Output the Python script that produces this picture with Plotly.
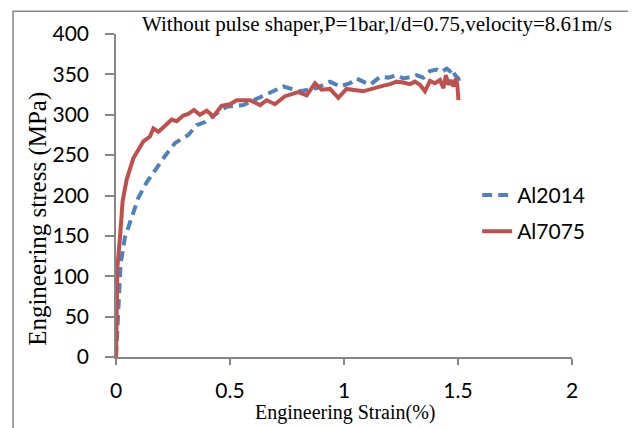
import plotly.graph_objects as go

# Al2014 (blue dashed)
al2014_strain = [0, 0.01, 0.02, 0.039, 0.069, 0.098, 0.134, 0.171, 0.215, 0.259, 0.317, 0.354, 0.39,
                 0.434, 0.485, 0.558, 0.617, 0.675, 0.734, 0.807, 0.88, 0.939, 0.982, 1.026, 1.055,
                 1.084, 1.114, 1.158, 1.194, 1.231, 1.26, 1.297, 1.319, 1.348, 1.377, 1.406, 1.428,
                 1.45, 1.465, 1.476, 1.487, 1.502, 1.506]
al2014_stress = [0, 70, 115, 148, 173, 197, 216, 232, 249, 265, 275, 287, 291,
                 300, 310, 312, 320, 327, 335, 329, 333, 341, 335, 339, 345,
                 341, 337, 347, 346, 349, 345, 347, 349, 346, 354, 356, 353,
                 357, 354, 357, 349, 345, 338]

# Al7075 (red solid)
al7075_strain = [0, 0.006, 0.0175, 0.029, 0.047, 0.076, 0.12, 0.149, 0.164, 0.186, 0.214, 0.244, 0.266,
                 0.295, 0.317, 0.342, 0.368, 0.398, 0.427, 0.463, 0.5, 0.529, 0.588, 0.632, 0.661,
                 0.697, 0.741, 0.8, 0.836, 0.873, 0.902, 0.939, 0.975, 1.011, 1.084, 1.129, 1.173,
                 1.202, 1.231, 1.26, 1.289, 1.311, 1.333, 1.355, 1.377, 1.399, 1.421, 1.436, 1.447,
                 1.458, 1.468, 1.48, 1.491, 1.497, 1.502]
al7075_stress = [0, 111, 148, 193, 220, 246, 267, 273, 283, 279, 286, 294, 292,
                 299, 301, 306, 300, 305, 298, 311, 313, 318, 318, 312, 318,
                 313, 323, 328, 324, 339, 331, 332, 321, 332, 329, 333, 336,
                 338, 341, 340, 338, 341, 337, 329, 342, 339, 343, 333, 349,
                 337, 343, 335, 345, 337, 318]

x_ticks = [0, 0.5, 1, 1.5, 2]
x_tick_labels = ["0", "0.5", "1", "1.5", "2"]
y_ticks = [0, 50, 100, 150, 200, 250, 300, 350, 400]

title_text = "Without pulse shaper,P=1bar,l/d=0.75,velocity=8.61m/s"
x_title = "Engineering Strain(%)"
y_title = "Engineering stress (MPa)"

fig = go.Figure()
fig.add_trace(go.Scatter(x=al2014_strain, y=al2014_stress, mode="lines", name="Al2014",
                         legendgroup="a",
                         line=dict(color="#4F81BD", width=4, dash="10px,6px")))
fig.add_trace(go.Scatter(x=al7075_strain, y=al7075_stress, mode="lines", name="Al7075",
                         legendgroup="b",
                         line=dict(color="#C0504D", width=4)))

axis_gray = "#868686"
fig.update_layout(
    width=628, height=420,
    margin=dict(l=108, r=64, t=24, b=71),
    paper_bgcolor="white", plot_bgcolor="white",
    font=dict(family="Lato, Liberation Sans, sans-serif", size=21, color="black"),
    xaxis=dict(range=[0, 2], tickvals=x_ticks, ticktext=x_tick_labels, showgrid=False,
               zeroline=False, showline=True, linecolor=axis_gray, linewidth=1.5,
               ticks="outside", ticklen=6, tickcolor=axis_gray, tickwidth=1.5,
               ticklabelstandoff=8),
    yaxis=dict(range=[0, 400], tickvals=y_ticks, showgrid=False, zeroline=False,
               showline=True, linecolor=axis_gray, linewidth=1.5,
               ticks="outside", ticklen=9, tickcolor=axis_gray, tickwidth=1.5,
               ticklabelstandoff=12),
    legend=dict(x=0.792, y=0.445, xanchor="left", yanchor="middle",
                font=dict(size=21), tracegroupgap=6, bgcolor="rgba(0,0,0,0)"),
    showlegend=True,
)

fig.add_annotation(text=title_text, xref="paper", yref="paper", x=(377 - 116) / 456,
                   y=(357 - 22) / 325, showarrow=False, xanchor="center", yanchor="middle",
                   font=dict(family="Liberation Serif, serif", size=21, color="black"))
fig.add_annotation(text=x_title, xref="paper", yref="paper", x=(345 - 116) / 456,
                   y=(357 - 413) / 325, showarrow=False, xanchor="center", yanchor="middle",
                   font=dict(family="Liberation Serif, serif", size=20, color="black"))
fig.add_annotation(text=y_title, xref="paper", yref="paper", x=(38 - 116) / 456,
                   y=(357 - 218) / 325, showarrow=False, xanchor="center", yanchor="middle",
                   textangle=-90,
                   font=dict(family="Liberation Serif, serif", size=25, color="black"))

fig.add_shape(type="rect", xref="paper", yref="paper",
              x0=(13 - 116) / 456, x1=(631 - 116) / 456,
              y0=(357 - 450) / 325, y1=(357 - 9) / 325,
              line=dict(color=axis_gray, width=1.5), fillcolor="rgba(0,0,0,0)", layer="below")

fig.write_html("out.html")
